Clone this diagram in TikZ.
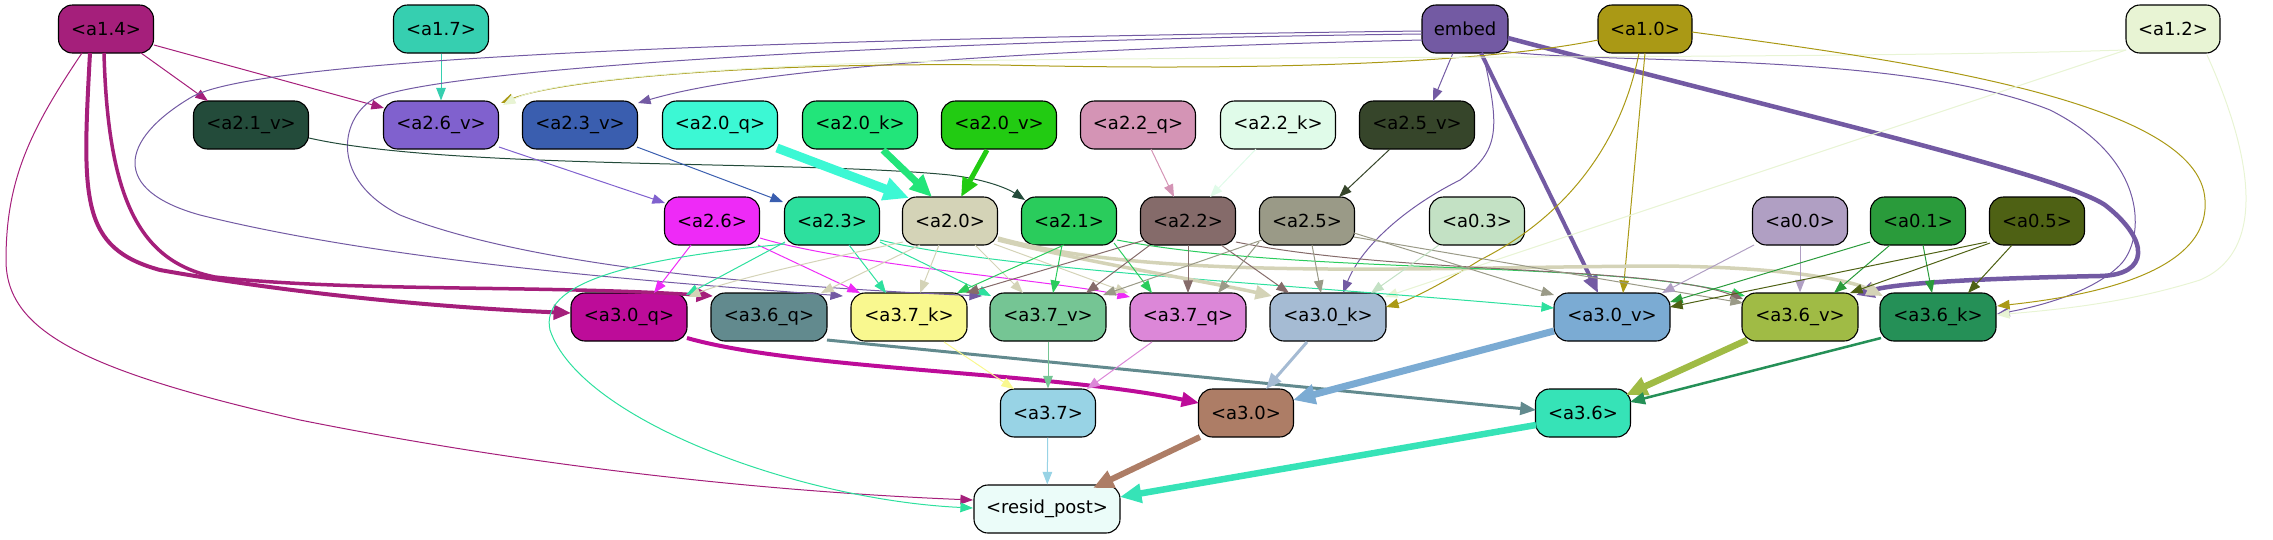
\documentclass[tikz,border=0pt]{standalone}
\usepackage{fontspec}
\setmainfont{DejaVu Sans}
\usetikzlibrary{arrows.meta}
\newcommand\nodefnt{\fontsize{18pt}{20pt}\selectfont}
\definecolor{c14}{HTML}{A51F7B}
\definecolor{c17}{HTML}{36CFB0}
\definecolor{cemb}{HTML}{735AA3}
\definecolor{c10}{HTML}{AA9915}
\definecolor{c12}{HTML}{E8F4D4}
\definecolor{c21v}{HTML}{234B3A}
\definecolor{c26v}{HTML}{8061CE}
\definecolor{c23v}{HTML}{3A5EAF}
\definecolor{c20q}{HTML}{3CF8D4}
\definecolor{c20k}{HTML}{22E57A}
\definecolor{c20v}{HTML}{22CB12}
\definecolor{c22q}{HTML}{D494B5}
\definecolor{c22k}{HTML}{E0FBE9}
\definecolor{c25v}{HTML}{36452A}
\definecolor{c26}{HTML}{EE2AF7}
\definecolor{c23}{HTML}{2DE09E}
\definecolor{c20}{HTML}{D4D3B7}
\definecolor{c21}{HTML}{2ACC5C}
\definecolor{c22}{HTML}{856B6A}
\definecolor{c25}{HTML}{9A9A87}
\definecolor{c03}{HTML}{C3E1C4}
\definecolor{c00}{HTML}{B09FC3}
\definecolor{c01}{HTML}{2A9B3B}
\definecolor{c05}{HTML}{4E6114}
\definecolor{c30q}{HTML}{BD0C99}
\definecolor{c36q}{HTML}{628A8E}
\definecolor{c37k}{HTML}{F9F88F}
\definecolor{c37v}{HTML}{75C594}
\definecolor{c37q}{HTML}{DC87D8}
\definecolor{c30k}{HTML}{A5BBD3}
\definecolor{c30v}{HTML}{7BABD3}
\definecolor{c36v}{HTML}{A0BB45}
\definecolor{c36k}{HTML}{259057}
\definecolor{c37}{HTML}{98D3E5}
\definecolor{c30}{HTML}{AD7D66}
\definecolor{c36}{HTML}{36E3B7}
\definecolor{cres}{HTML}{EBFCF9}
\tikzset{
  nd/.style={draw=black, line width=1.1pt, rounded corners=14pt, minimum height=48pt, inner sep=0pt, font=\nodefnt, text=black},
  ed/.style={draw=#1, line width=1pt, -{Triangle[length=11pt 1.6,width=8pt 1.6]}},
}
\begin{document}
\begin{tikzpicture}[x=1pt,y=-1pt]
\useasboundingbox (0,0) rectangle (2273,539);
% row 1
\node[nd, fill=c14, minimum width=95pt] (a14) at (106,29) {<a1.4>};
\node[nd, fill=c17, minimum width=95pt] (a17) at (441,29) {<a1.7>};
\node[nd, fill=cemb, minimum width=86pt] (emb) at (1465,29) {embed};
\node[nd, fill=c10, minimum width=94pt] (a10) at (1645,29) {<a1.0>};
\node[nd, fill=c12, minimum width=94pt] (a12) at (2173,29) {<a1.2>};
% row 2
\node[nd, fill=c21v, minimum width=115pt] (a21v) at (251,125) {<a2.1\_v>};
\node[nd, fill=c26v, minimum width=115pt] (a26v) at (441,125) {<a2.6\_v>};
\node[nd, fill=c23v, minimum width=115pt] (a23v) at (580,125) {<a2.3\_v>};
\node[nd, fill=c20q, minimum width=115pt] (a20q) at (720,125) {<a2.0\_q>};
\node[nd, fill=c20k, minimum width=115pt] (a20k) at (860,125) {<a2.0\_k>};
\node[nd, fill=c20v, minimum width=115pt] (a20v) at (999,125) {<a2.0\_v>};
\node[nd, fill=c22q, minimum width=115pt] (a22q) at (1138,125) {<a2.2\_q>};
\node[nd, fill=c22k, minimum width=115pt] (a22k) at (1278,125) {<a2.2\_k>};
\node[nd, fill=c25v, minimum width=115pt] (a25v) at (1417,125) {<a2.5\_v>};
% row 3
\node[nd, fill=c26, minimum width=95pt] (a26) at (712,221) {<a2.6>};
\node[nd, fill=c23, minimum width=95pt] (a23) at (832,221) {<a2.3>};
\node[nd, fill=c20, minimum width=95pt] (a20) at (950,221) {<a2.0>};
\node[nd, fill=c21, minimum width=95pt] (a21) at (1069,221) {<a2.1>};
\node[nd, fill=c22, minimum width=95pt] (a22) at (1188,221) {<a2.2>};
\node[nd, fill=c25, minimum width=95pt] (a25) at (1307,221) {<a2.5>};
\node[nd, fill=c03, minimum width=95pt] (a03) at (1477,221) {<a0.3>};
\node[nd, fill=c00, minimum width=95pt] (a00) at (1800,221) {<a0.0>};
\node[nd, fill=c01, minimum width=95pt] (a01) at (1918,221) {<a0.1>};
\node[nd, fill=c05, minimum width=95pt] (a05) at (2037,221) {<a0.5>};
% row 4
\node[nd, fill=c30q, minimum width=116pt] (a30q) at (629,317) {<a3.0\_q>};
\node[nd, fill=c36q, minimum width=116pt] (a36q) at (769,317) {<a3.6\_q>};
\node[nd, fill=c37k, minimum width=116pt] (a37k) at (909,317) {<a3.7\_k>};
\node[nd, fill=c37v, minimum width=116pt] (a37v) at (1048,317) {<a3.7\_v>};
\node[nd, fill=c37q, minimum width=116pt] (a37q) at (1188,317) {<a3.7\_q>};
\node[nd, fill=c30k, minimum width=116pt] (a30k) at (1328,317) {<a3.0\_k>};
\node[nd, fill=c30v, minimum width=116pt] (a30v) at (1612,317) {<a3.0\_v>};
\node[nd, fill=c36v, minimum width=116pt] (a36v) at (1800,317) {<a3.6\_v>};
\node[nd, fill=c36k, minimum width=116pt] (a36k) at (1938,317) {<a3.6\_k>};
% row 5
\node[nd, fill=c37, minimum width=95pt] (a37) at (1048,413) {<a3.7>};
\node[nd, fill=c30, minimum width=95pt] (a30) at (1246,413) {<a3.0>};
\node[nd, fill=c36, minimum width=95pt] (a36) at (1583,413) {<a3.6>};
% row 6
\node[nd, fill=cres, minimum width=146pt] (res) at (1047,509) {<resid\_post>};

% ---- edges from row 1
\draw[ed=c14] ([shift={(35,24)}]a14.center) -- ([shift={(-43,-24)}]a21v.center);
\draw[ed=c14] ([shift={(48,16)}]a14.center) -- ([shift={(-57,-17)}]a26v.center);
\draw[ed=c14, line width=4pt] ([shift={(-16,24)}]a14.center) .. controls (82,200) and (80,248) .. (160,270) .. controls (300,295) and (450,308) .. ([shift={(-58,-4)}]a30q.center);
\draw[ed=c14, line width=3.5pt] ([shift={(-2,24)}]a14.center) .. controls (108,200) and (140,262) .. (215,277) .. controls (350,292) and (550,285) .. ([shift={(-56,-21)}]a36q.center);
\draw[ed=c14] ([shift={(-24,24)}]a14.center) .. controls (30,130) and (6,180) .. (6,260) .. controls (6,330) and (80,370) .. (300,420) .. controls (600,480) and (850,495) .. ([shift={(-74,-9)}]res.center);
\draw[ed=c17] (a17) -- (a26v);
\draw[ed=cemb] ([shift={(-43,2)}]emb.center) .. controls (700,40) and (250,60) .. (190,98) .. controls (120,140) and (110,190) .. (200,215) .. controls (400,265) and (700,285) .. ([shift={(-66,-21)}]a37k.center);
\draw[ed=cemb] ([shift={(-43,5)}]emb.center) .. controls (900,40) and (420,70) .. (372,100) .. controls (340,120) and (330,180) .. (400,215) .. controls (550,275) and (850,290) .. ([shift={(-66,-21)}]a37v.center);
\draw[ed=cemb] ([shift={(-43,11)}]emb.center) .. controls (1000,50) and (750,70) .. ([shift={(58,-22)}]a23v.center);
\draw[ed=cemb] ([shift={(-12,24)}]emb.center) -- ([shift={(16,-24)}]a25v.center);
\draw[ed=cemb, line width=4pt] ([shift={(16,24)}]emb.center) -- ([shift={(-14,-24)}]a30v.center);
\draw[ed=cemb] ([shift={(18,24)}]emb.center) .. controls (1500,130) and (1500,150) .. (1460,180) .. controls (1400,210) and (1360,250) .. ([shift={(15,-24)}]a30k.center);
\draw[ed=cemb, line width=4.5pt] ([shift={(43,9)}]emb.center) .. controls (1800,115) and (2060,175) .. (2105,205) .. controls (2150,240) and (2150,275) .. (2100,276) .. controls (2000,278) and (1900,282) .. ([shift={(56,-22)}]a36v.center);
\draw[ed=cemb] ([shift={(36,22)}]emb.center) .. controls (1600,65) and (1900,50) .. (2050,110) .. controls (2150,160) and (2145,240) .. (2120,265) .. controls (2090,295) and (2030,308) .. ([shift={(59,-3)}]a36k.center);
\draw[ed=c10] ([shift={(-47,11)}]a10.center) .. controls (1500,60) and (1300,72) .. (1000,65) .. controls (750,62) and (560,80) .. ([shift={(60,-22)}]a26v.center);
\draw[ed=c12] ([shift={(-47,21)}]a12.center) .. controls (1800,60) and (1200,55) .. (900,62) .. controls (650,70) and (540,85) .. ([shift={(62,-20)}]a26v.center);
\draw[ed=c10] ([shift={(-6,24)}]a10.center) .. controls (1620,150) and (1560,220) .. (1480,260) .. controls (1440,285) and (1410,300) .. ([shift={(58,-10)}]a30k.center);
\draw[ed=c10] ([shift={(0,24)}]a10.center) -- ([shift={(11,-24)}]a30v.center);
\draw[ed=c10] ([shift={(47,3)}]a10.center) .. controls (1900,60) and (2200,100) .. (2205,200) .. controls (2210,270) and (2100,295) .. ([shift={(59,-11)}]a36k.center);
\draw[ed=c12] ([shift={(-47,21)}]a12.center) -- ([shift={(57,-20)}]a30k.center);
\draw[ed=c12] ([shift={(34,26)}]a12.center) .. controls (2250,150) and (2270,250) .. (2200,280) .. controls (2120,305) and (2050,310) .. ([shift={(59,-2)}]a36k.center);
% ---- row 2 -> row 3
\draw[ed=c21v] ([shift={(58,13)}]a21v.center) .. controls (450,170) and (800,160) .. (950,175) .. controls (990,180) and (1010,190) .. ([shift={(-44,-21)}]a21.center);
\draw[ed=c26v] ([shift={(58,22)}]a26v.center) -- ([shift={(-47,-18)}]a26.center);
\draw[ed=c23v] ([shift={(57,22)}]a23v.center) -- ([shift={(-49,-19)}]a23.center);
\draw[ed=c20q, line width=9pt] ([shift={(57,23)}]a20q.center) -- ([shift={(-41,-23)}]a20.center);
\draw[ed=c20k, line width=7pt] ([shift={(23,25)}]a20k.center) -- ([shift={(-18,-24)}]a20.center);
\draw[ed=c20v, line width=5pt] ([shift={(-12,25)}]a20v.center) -- ([shift={(11,-24)}]a20.center);
\draw[ed=c22q] ([shift={(13,24)}]a22q.center) -- ([shift={(-14,-24)}]a22.center);
\draw[ed=c22k] ([shift={(-22,24)}]a22k.center) -- ([shift={(22,-24)}]a22.center);
\draw[ed=c25v] ([shift={(-27,24)}]a25v.center) -- ([shift={(32,-24)}]a25.center);
% ---- row 3 -> row 4
\draw[ed=c26] ([shift={(-21,24)}]a26.center) -- ([shift={(25,-24)}]a30q.center);
\draw[ed=c26] ([shift={(46,24)}]a26.center) -- ([shift={(-49,-24)}]a37k.center);
\draw[ed=c26] ([shift={(48,17)}]a26.center) .. controls (850,265) and (1050,280) .. ([shift={(-58,-20)}]a37q.center);
\draw[ed=c23] ([shift={(-47,21)}]a23.center) -- ([shift={(57,-22)}]a30q.center);
\draw[ed=c23] ([shift={(-47,23)}]a23.center) .. controls (620,260) and (540,285) .. (550,330) .. controls (580,420) and (800,500) .. ([shift={(-74,-1)}]res.center);
\draw[ed=c23] ([shift={(17,24)}]a23.center) -- ([shift={(-23,-24)}]a37k.center);
\draw[ed=c23] ([shift={(48,21)}]a23.center) -- ([shift={(-57,-21)}]a37v.center);
\draw[ed=c23] ([shift={(48,19)}]a23.center) .. controls (1000,270) and (1300,285) .. ([shift={(-58,-9)}]a30v.center);
\draw[ed=c20] ([shift={(-47,21)}]a20.center) .. controls (820,260) and (730,280) .. ([shift={(59,-20)}]a30q.center);
\draw[ed=c20] ([shift={(-30,24)}]a20.center) -- ([shift={(52,-24)}]a36q.center);
\draw[ed=c20] ([shift={(-11,24)}]a20.center) -- ([shift={(11,-24)}]a37k.center);
\draw[ed=c20] ([shift={(25,24)}]a20.center) -- ([shift={(-25,-24)}]a37v.center);
\draw[ed=c20] ([shift={(44,23)}]a20.center) -- ([shift={(-60,-24)}]a37q.center);
\draw[ed=c20, line width=3.5pt] ([shift={(48,19)}]a20.center) .. controls (1100,265) and (1200,280) .. ([shift={(-56,-21)}]a30k.center);
\draw[ed=c20, line width=3.5pt] ([shift={(48,17)}]a20.center) .. controls (1150,280) and (1400,268) .. (1650,266) .. controls (1780,266) and (1850,280) .. ([shift={(-55,-21)}]a36k.center);
\draw[ed=c21] ([shift={(-5,24)}]a21.center) -- ([shift={(48,-24)}]a37k.center);
\draw[ed=c21] ([shift={(-7,24)}]a21.center) -- ([shift={(5,-24)}]a37v.center);
\draw[ed=c21] ([shift={(45,22)}]a21.center) -- ([shift={(-36,-24)}]a37q.center);
\draw[ed=c21] ([shift={(48,19)}]a21.center) .. controls (1300,275) and (1600,260) .. ([shift={(-55,-21)}]a36v.center);
\draw[ed=c22] ([shift={(-43,19)}]a22.center) -- ([shift={(57,-24)}]a37k.center);
\draw[ed=c22] ([shift={(-38,24)}]a22.center) -- ([shift={(38,-24)}]a37v.center);
\draw[ed=c22] ([shift={(0,24)}]a22.center) -- ([shift={(0,-24)}]a37q.center);
\draw[ed=c22] ([shift={(33,24)}]a22.center) -- ([shift={(-39,-24)}]a30k.center);
\draw[ed=c22] ([shift={(48,21)}]a22.center) .. controls (1400,275) and (1650,265) .. ([shift={(-57,-18)}]a36v.center);
\draw[ed=c25] ([shift={(-48,21)}]a25.center) -- ([shift={(30,-24)}]a37q.center);
\draw[ed=c25] ([shift={(-45,19)}]a25.center) -- ([shift={(55,-22)}]a37v.center);
\draw[ed=c25] ([shift={(5,24)}]a25.center) -- ([shift={(-7,-24)}]a30k.center);
\draw[ed=c25] ([shift={(47,12)}]a25.center) -- ([shift={(-58,-22)}]a30v.center);
\draw[ed=c25] ([shift={(47,16)}]a25.center) -- ([shift={(-57,-14)}]a36v.center);
\draw[ed=c03] ([shift={(-38,24)}]a03.center) -- ([shift={(43,-24)}]a30k.center);
\draw[ed=c00] ([shift={(-46,24)}]a00.center) -- ([shift={(50,-24)}]a30v.center);
\draw[ed=c00] (a00) -- (a36v);
\draw[ed=c01] ([shift={(-48,21)}]a01.center) -- ([shift={(58,-15)}]a30v.center);
\draw[ed=c01] ([shift={(-28,24)}]a01.center) -- ([shift={(34,-24)}]a36v.center);
\draw[ed=c01] ([shift={(5,24)}]a01.center) -- ([shift={(-6,-24)}]a36k.center);
\draw[ed=c05] ([shift={(-50,21)}]a05.center) -- ([shift={(58,-10)}]a30v.center);
\draw[ed=c05] ([shift={(-47,22)}]a05.center) -- ([shift={(50,-24)}]a36v.center);
\draw[ed=c05] ([shift={(-25,24)}]a05.center) -- ([shift={(30,-24)}]a36k.center);
% ---- row 4 -> row 5
\draw[ed=c30q, line width=4pt] ([shift={(58,21)}]a30q.center) .. controls (800,370) and (1050,372) .. ([shift={(-47,-10)}]a30.center);
\draw[ed=c36q, line width=3pt] ([shift={(58,23)}]a36q.center) -- ([shift={(-47,-3)}]a36.center);
\draw[ed=c37k] ([shift={(35,25)}]a37k.center) -- ([shift={(-34,-24)}]a37.center);
\draw[ed=c37v] (a37v) -- (a37);
\draw[ed=c37q] ([shift={(-36,25)}]a37q.center) -- ([shift={(39,-24)}]a37.center);
\draw[ed=c30k, line width=3pt] ([shift={(-21,25)}]a30k.center) -- ([shift={(20,-24)}]a30.center);
\draw[ed=c30v, line width=7pt] ([shift={(-58,14)}]a30v.center) -- ([shift={(47,-13)}]a30.center);
\draw[ed=c36v, line width=6.5pt] ([shift={(-53,23)}]a36v.center) -- ([shift={(43,-18)}]a36.center);
\draw[ed=c36k, line width=2.5pt] ([shift={(-57,21)}]a36k.center) -- ([shift={(47,-11)}]a36.center);
% ---- row 5 -> row 6
\draw[ed=c37] (a37) -- (res);
\draw[ed=c30, line width=6pt] ([shift={(-46,24)}]a30.center) -- ([shift={(46,-21)}]res.center);
\draw[ed=c36, line width=6.5pt] ([shift={(-47,12)}]a36.center) -- ([shift={(73,-12)}]res.center);
\end{tikzpicture}
\end{document}
